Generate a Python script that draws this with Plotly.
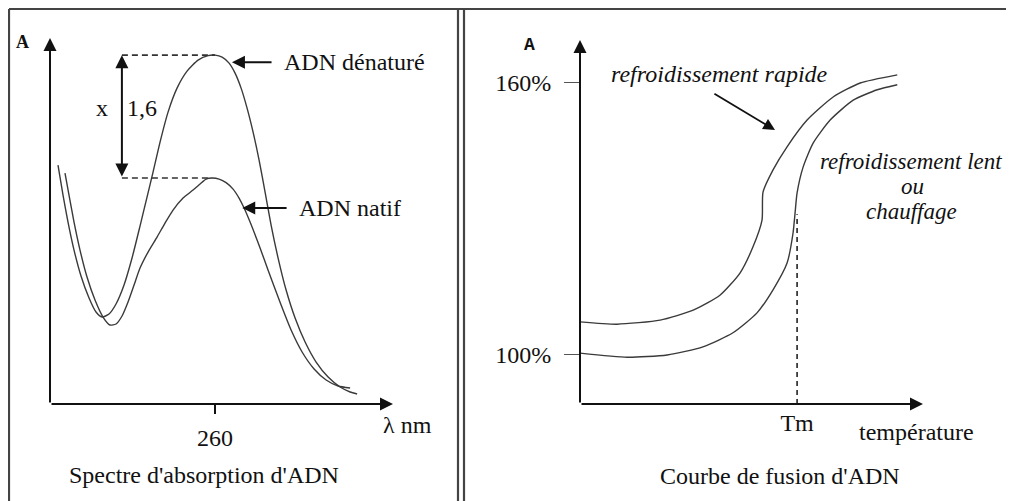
import plotly.graph_objects as go

# page body has an 8px margin; the figure is sized so that it fills the window
OFF = 8
W, H = 1014, 501
FW, FH = W - OFF, H - OFF
FONT = "Liberation Serif, Times New Roman, serif"
INK = "#111111"
CURVE = "#3a3a3a"
FS = 24

# ---------------- Left panel: absorption spectrum (wavelength nm, absorbance) ----------
wl_denat = [217.18, 218.55, 219.91, 221.55, 223.45, 225.64, 227.54, 229.18, 231.09, 233.00,
            235.18, 237.36, 239.54, 241.45, 243.09, 245.00, 247.18, 249.63, 252.36, 255.36,
            258.09, 260.00, 261.91, 263.82, 265.45, 267.09, 268.72, 270.36, 272.00, 273.63,
            275.27, 277.18, 279.36, 281.81, 284.54, 287.54, 290.81, 294.09, 296.81, 298.72]
abs_denat = [1.0575, 0.9248, 0.8053, 0.6814, 0.5664, 0.4690, 0.4071, 0.3850, 0.3982, 0.4425,
             0.5265, 0.6460, 0.7876, 0.9159, 1.0265, 1.1593, 1.2920, 1.3982, 1.4735, 1.5221,
             1.5420, 1.5442, 1.5354, 1.5088, 1.4646, 1.3982, 1.3097, 1.2035, 1.0796, 0.9381,
             0.7920, 0.6460, 0.5044, 0.3805, 0.2743, 0.1858, 0.1195, 0.0752, 0.0531, 0.0442]

wl_natif = [219.09, 220.18, 221.55, 223.18, 225.09, 227.27, 229.45, 231.36, 233.00, 234.64,
            236.27, 237.91, 239.54, 241.73, 244.18, 246.36, 248.54, 251.27, 254.00, 255.91,
            257.54, 259.18, 261.09, 263.00, 264.91, 266.54, 267.91, 269.54, 271.45, 273.36,
            275.54, 278.00, 280.72, 283.72, 286.99, 290.27, 293.54, 296.81]
abs_natif = [1.0221, 0.9248, 0.8053, 0.6814, 0.5619, 0.4602, 0.3850, 0.3496, 0.3540, 0.3894,
             0.4513, 0.5265, 0.6018, 0.6726, 0.7389, 0.8009, 0.8584, 0.9115, 0.9469, 0.9735,
             0.9956, 1.0000, 0.9956, 0.9801, 0.9513, 0.9115, 0.8673, 0.8053, 0.7257, 0.6416,
             0.5442, 0.4381, 0.3274, 0.2301, 0.1549, 0.1062, 0.0796, 0.0708]

peak_wl = 260
ratio_label = "1,6"
wl_range = [215.0, 308.5]
a_range = [0.0, 1.62]
x_guide = 234.6

# ---------------- Right panel: melting curve (temperature, A %) ----------------
t_rapide = [20.0, 31.1, 44.0, 53.9, 61.9, 67.9, 71.8, 74.5, 74.8, 77.8, 82.0, 88.0, 95.8, 103.9, 115.0]
a_rapide = [107.2, 106.7, 107.6, 109.8, 113.1, 118.0, 123.8, 129.7, 135.9, 140.8, 145.9, 151.8, 156.9, 160.0, 161.8]

t_lent = [20.0, 34.1, 46.1, 56.8, 65.8, 73.0, 77.8, 82.0, 83.8, 84.4, 85.0, 86.8, 89.8, 94.9, 101.8, 109.0, 115.0]
a_lent = [100.3, 99.4, 99.9, 101.7, 104.8, 109.2, 114.3, 120.2, 126.9, 131.3, 135.7, 141.4, 146.7, 151.8, 156.2, 158.5, 159.6]

tm = 85.0
tm_top = 131.0
a_ticks = [100, 160]
a_ticktext = ["100%", "160%"]
t_range = [20.0, 122.7]
pct_range = [89.06, 169.5]


def fx(p):
    """screen pixel (x) -> paper fraction"""
    return (p - OFF) / FW


def fy(p):
    """screen pixel (y from top) -> paper fraction"""
    return 1 - (p - OFF) / FH


fig = go.Figure()

line_style = dict(color=CURVE, width=1.4, shape="spline", smoothing=0.6)
fig.add_trace(go.Scatter(x=wl_denat, y=abs_denat, mode="lines", line=line_style,
                         xaxis="x", yaxis="y", hoverinfo="skip"))
fig.add_trace(go.Scatter(x=wl_natif, y=abs_natif, mode="lines", line=line_style,
                         xaxis="x", yaxis="y", hoverinfo="skip"))

# dashed guides to the two peaks
i_d = max(range(len(abs_denat)), key=lambda i: abs_denat[i] if wl_denat[i] > 240 else -1)
i_n = max(range(len(abs_natif)), key=lambda i: abs_natif[i] if wl_natif[i] > 240 else -1)
peak_denat, peak_natif = abs_denat[i_d], abs_natif[i_n]
dash_style = dict(color="#333", width=1.6, dash="6px,4px")
fig.add_trace(go.Scatter(x=[x_guide, wl_denat[i_d]], y=[peak_denat, peak_denat], mode="lines",
                         line=dash_style, xaxis="x", yaxis="y", hoverinfo="skip"))
fig.add_trace(go.Scatter(x=[x_guide, wl_natif[i_n]], y=[peak_natif, peak_natif], mode="lines",
                         line=dash_style, xaxis="x", yaxis="y", hoverinfo="skip"))

smooth2 = dict(color=CURVE, width=1.4, shape="spline", smoothing=0.6)
fig.add_trace(go.Scatter(x=t_rapide, y=a_rapide, mode="lines", line=smooth2,
                         xaxis="x2", yaxis="y2", hoverinfo="skip"))
fig.add_trace(go.Scatter(x=t_lent, y=a_lent, mode="lines", line=smooth2,
                         xaxis="x2", yaxis="y2", hoverinfo="skip"))
fig.add_trace(go.Scatter(x=[tm, tm], y=[pct_range[0], tm_top], mode="lines",
                         line=dict(color="#222", width=1.6, dash="5px,4px"),
                         xaxis="x2", yaxis="y2", hoverinfo="skip"))


def arrow(xr, yr, x0, y0, x1, y1, width=2.0, size=1.3, side="end"):
    return dict(x=x1, y=y1, ax=x0, ay=y0, xref=xr, yref=yr, axref=xr, ayref=yr,
                showarrow=True, arrowhead=2, arrowsize=size, arrowwidth=width,
                arrowcolor=INK, text="", standoff=0, startstandoff=0, arrowside=side)


def label(xr, yr, x, y, text, size=FS, xanchor="center", italic=False, bold=False, family=FONT):
    return dict(x=x, y=y, xref=xr, yref=yr, text=text, showarrow=False,
                xanchor=xanchor, yanchor="middle",
                font=dict(family=family, size=size, color=INK,
                          style="italic" if italic else "normal",
                          weight="bold" if bold else "normal"))


def plabel(x, y, text, **kw):
    return label("paper", "paper", fx(x), fy(y), text, **kw)


ann = [
    # left axes
    arrow("x", "y", wl_range[0], a_range[0], wl_range[1], a_range[0]),
    arrow("x", "y", wl_range[0], a_range[0], wl_range[0], a_range[1]),
    # double arrow x 1,6
    arrow("x", "y", x_guide, peak_natif, x_guide, peak_denat, width=2, size=1.3, side="end+start"),
    arrow("x", "y", 275.8, 1.513, 264.6, 1.513),
    arrow("x", "y", 279.9, 0.867, 267.4, 0.867),
    label("x", "y", 229.1, 1.31, "x"),
    label("x", "y", 240.1, 1.31, ratio_label),
    label("x", "y", 278.3, 1.513, "ADN dénaturé", xanchor="left"),
    label("x", "y", 282.4, 0.867, "ADN natif", xanchor="left"),
    plabel(22, 42, "A", size=18, bold=True),
    plabel(407, 425, "λ nm"),
    plabel(204, 475, "Spectre d'absorption d'ADN"),
    # right axes
    arrow("x2", "y2", t_range[0], pct_range[0], t_range[1], pct_range[0]),
    arrow("x2", "y2", t_range[0], pct_range[0], t_range[0], pct_range[1]),
    arrow("x2", "y2", 59.8, 157.8, 78.4, 149.6, width=1.8, size=1.3),
    label("x2", "y2", 61.9, 162.0, "refroidissement rapide", italic=True),
    label("x2", "y2", 119.2, 142.7, "refroidissement lent", italic=True, size=23),
    label("x2", "y2", 119.6, 137.2, "ou", italic=True, size=23),
    label("x2", "y2", 119.3, 131.6, "chauffage", italic=True, size=23),
    plabel(529, 45, "A", size=18, bold=True, family="Liberation Mono"),
    plabel(916, 432, "température"),
    plabel(780, 476, "Courbe de fusion d'ADN"),
]

frame = dict(type="line", xref="paper", yref="paper", line=dict(color="#444", width=2.2))
shapes = [
    dict(frame, x0=fx(9), x1=fx(9), y0=fy(9), y1=fy(H)),
    dict(frame, x0=fx(9), x1=fx(W), y0=fy(9), y1=fy(9)),
    dict(frame, x0=fx(458), x1=fx(458), y0=fy(9), y1=fy(H)),
    dict(frame, x0=fx(464), x1=fx(464), y0=fy(9), y1=fy(H)),
]

tickfont = dict(family=FONT, size=FS, color=INK)
axis_common = dict(showgrid=False, zeroline=False, showline=False, fixedrange=True)

fig.update_layout(
    width=FW, height=FH, margin=dict(l=0, r=0, t=0, b=0),
    paper_bgcolor="white", plot_bgcolor="white", showlegend=False,
    annotations=ann, shapes=shapes,
    xaxis=dict(axis_common, domain=[fx(50), fx(393)], range=wl_range, anchor="y",
               tickvals=[peak_wl], ticktext=[str(peak_wl)], ticks="outside", ticklen=9,
               tickwidth=2, tickcolor=INK, tickfont=tickfont, ticklabelstandoff=3),
    yaxis=dict(axis_common, domain=[fy(404), fy(38)], range=a_range, anchor="x",
               showticklabels=False, ticks=""),
    xaxis2=dict(axis_common, domain=[fx(580), fx(923)], range=t_range, anchor="y2",
                tickvals=[tm], ticktext=["Tm"], ticks="", tickfont=tickfont, ticklabelstandoff=2),
    yaxis2=dict(axis_common, domain=[fy(404), fy(40)], range=pct_range, anchor="x2",
                tickvals=a_ticks, ticktext=a_ticktext, ticks="outside", ticklen=15,
                tickwidth=1.2, tickcolor="#555", tickfont=tickfont, ticklabelstandoff=8),
)

fig.write_html("out.html")
